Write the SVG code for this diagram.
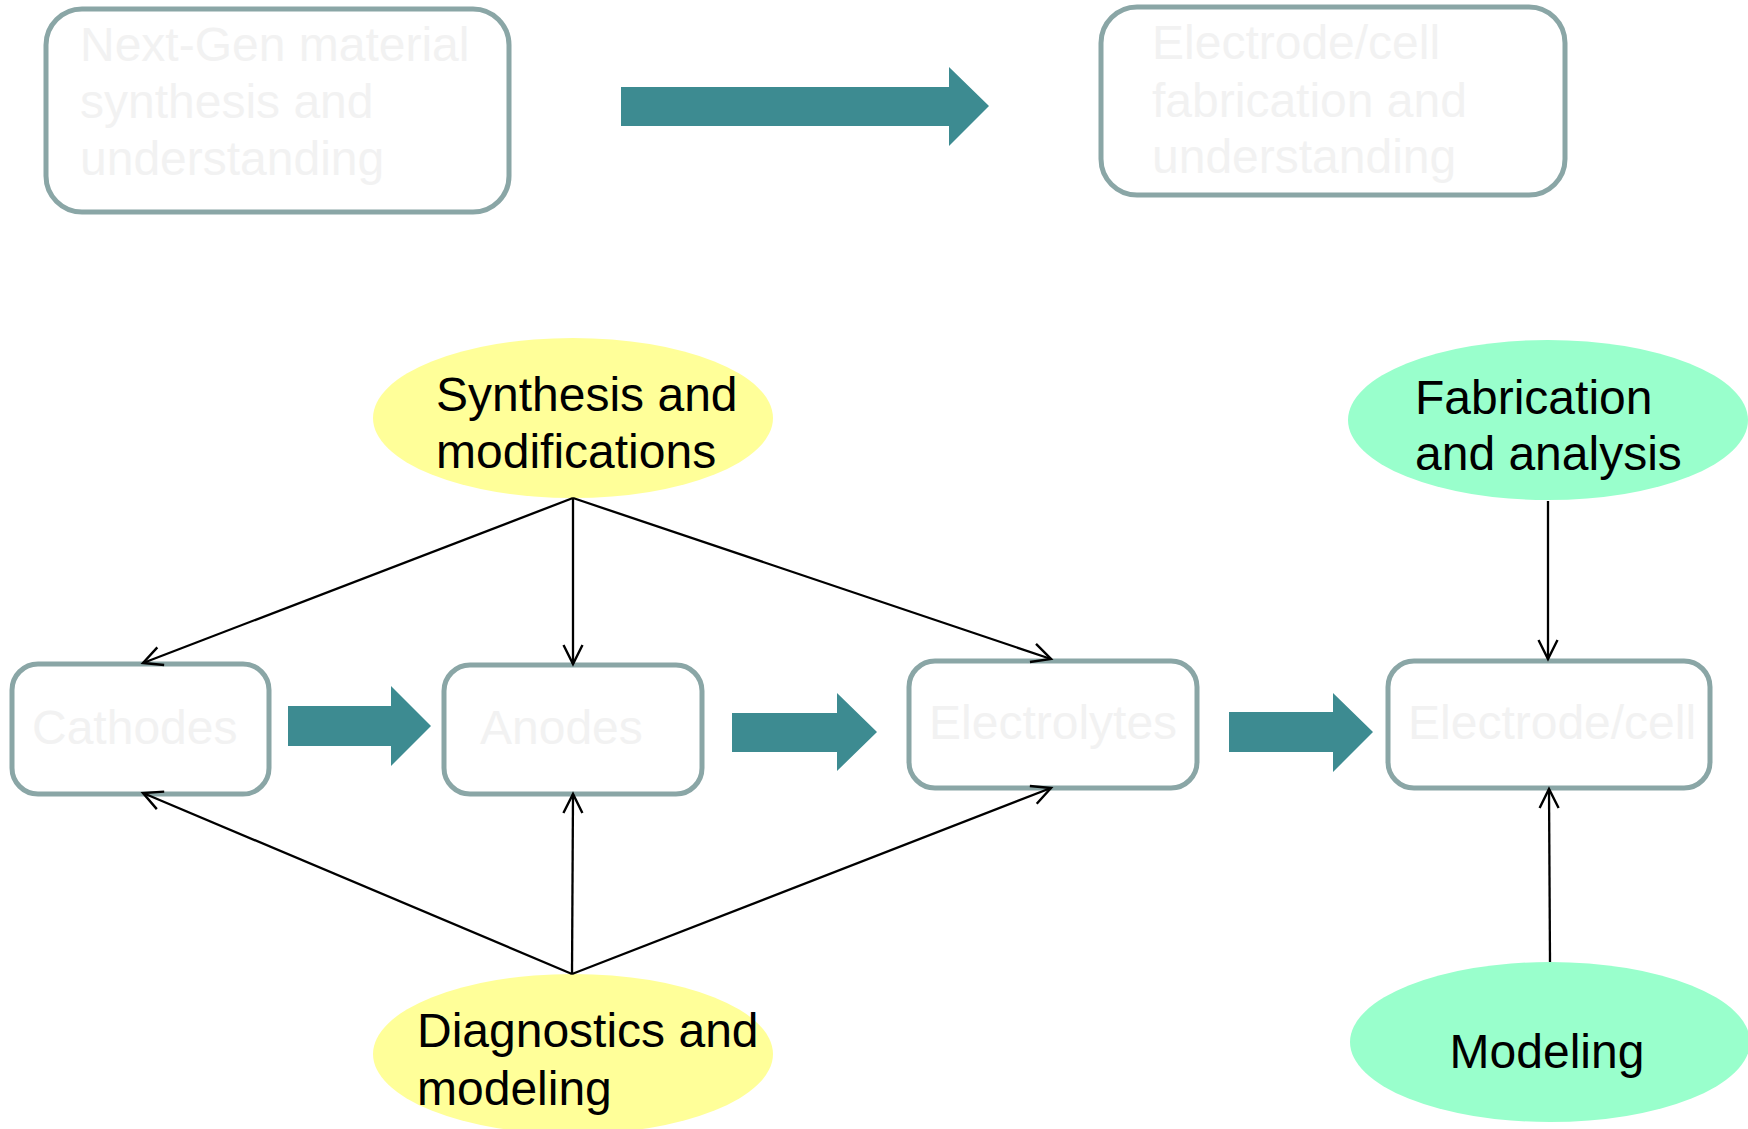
<svg xmlns="http://www.w3.org/2000/svg" width="1748" height="1129" viewBox="0 0 1748 1129">
<style>
.box{fill:#ffffff;stroke:#8aa6a6;stroke-width:5}
.ghost{font-family:"Liberation Sans",Arial,sans-serif;font-size:48px;fill:#f2f2f2}
.lbl{font-family:"Liberation Sans",Arial,sans-serif;font-size:48px;fill:#000000}
.big{fill:#3d8b91}
.con{stroke:#000000;stroke-width:2.3;fill:none;marker-end:url(#open)}
</style>
<defs>
<marker id="open" markerUnits="userSpaceOnUse" markerWidth="24" markerHeight="24" viewBox="-20 -12 24 24" refX="0" refY="0" orient="auto" overflow="visible">
<path d="M -19 -9.5 L 0 0 L -19 9.5" fill="none" stroke="#000000" stroke-width="2.4"/>
</marker>
</defs>
<rect width="1748" height="1129" fill="#ffffff"/>
<g id="nextgen">
<rect class="box" x="46" y="9" width="463" height="203" rx="36"/>
<text class="ghost" x="80" y="61">Next-Gen material</text>
<text class="ghost" x="80" y="118">synthesis and</text>
<text class="ghost" x="80" y="175">understanding</text>
</g>
<g id="fabrication-top">
<rect class="box" x="1101" y="7" width="464" height="188" rx="36"/>
<text class="ghost" x="1152" y="59">Electrode/cell</text>
<text class="ghost" x="1152" y="117">fabrication and</text>
<text class="ghost" x="1152" y="173">understanding</text>
</g>
<g id="cathodes">
<rect class="box" x="12" y="664" width="257" height="130" rx="26"/>
<text class="ghost" x="32" y="744">Cathodes</text>
</g>
<g id="anodes">
<rect class="box" x="444" y="665" width="258" height="129" rx="26"/>
<text class="ghost" x="480" y="744">Anodes</text>
</g>
<g id="electrolytes">
<rect class="box" x="909" y="661" width="288" height="127" rx="26"/>
<text class="ghost" x="929" y="739">Electrolytes</text>
</g>
<g id="electrode-cell">
<rect class="box" x="1388" y="661" width="322" height="127" rx="26"/>
<text class="ghost" x="1408" y="739">Electrode/cell</text>
</g>
<g id="synthesis">
<ellipse cx="573" cy="418" rx="200" ry="80" fill="#ffff99"/>
<text class="lbl" x="436" y="411">Synthesis and</text>
<text class="lbl" x="436" y="468">modifications</text>
</g>
<g id="diagnostics">
<ellipse cx="573" cy="1054" rx="200" ry="80" fill="#ffff99"/>
<text class="lbl" x="417" y="1047">Diagnostics and</text>
<text class="lbl" x="417" y="1105">modeling</text>
</g>
<g id="fabrication">
<ellipse cx="1548" cy="420" rx="200" ry="80" fill="#99ffcc"/>
<text class="lbl" x="1415" y="414">Fabrication</text>
<text class="lbl" x="1415" y="470">and analysis</text>
</g>
<g id="modeling">
<ellipse cx="1550" cy="1042" rx="200" ry="80" fill="#99ffcc"/>
<text class="lbl" x="1547" y="1068" text-anchor="middle">Modeling</text>
</g>
<g id="connectors">
<polygon class="big" points="621,87 949,87 949,67 989,106 949,146 949,126 621,126"/>
<polygon class="big" points="288,706 391,706 391,686 431,726 391,766 391,746 288,746"/>
<polygon class="big" points="732,713 837,713 837,693 877,732 837,771 837,752 732,752"/>
<polygon class="big" points="1229,712 1333,712 1333,693 1373,732 1333,772 1333,752 1229,752"/>
<line class="con" x1="573" y1="498" x2="143" y2="663"/>
<line class="con" x1="573" y1="498" x2="573" y2="664"/>
<line class="con" x1="573" y1="498" x2="1051" y2="659"/>
<line class="con" x1="572" y1="974" x2="143" y2="793"/>
<line class="con" x1="572" y1="974" x2="573" y2="794"/>
<line class="con" x1="572" y1="974" x2="1051" y2="788"/>
<line class="con" x1="1548" y1="501" x2="1548" y2="659"/>
<line class="con" x1="1550" y1="962" x2="1549" y2="789"/>
</g>
</svg>
